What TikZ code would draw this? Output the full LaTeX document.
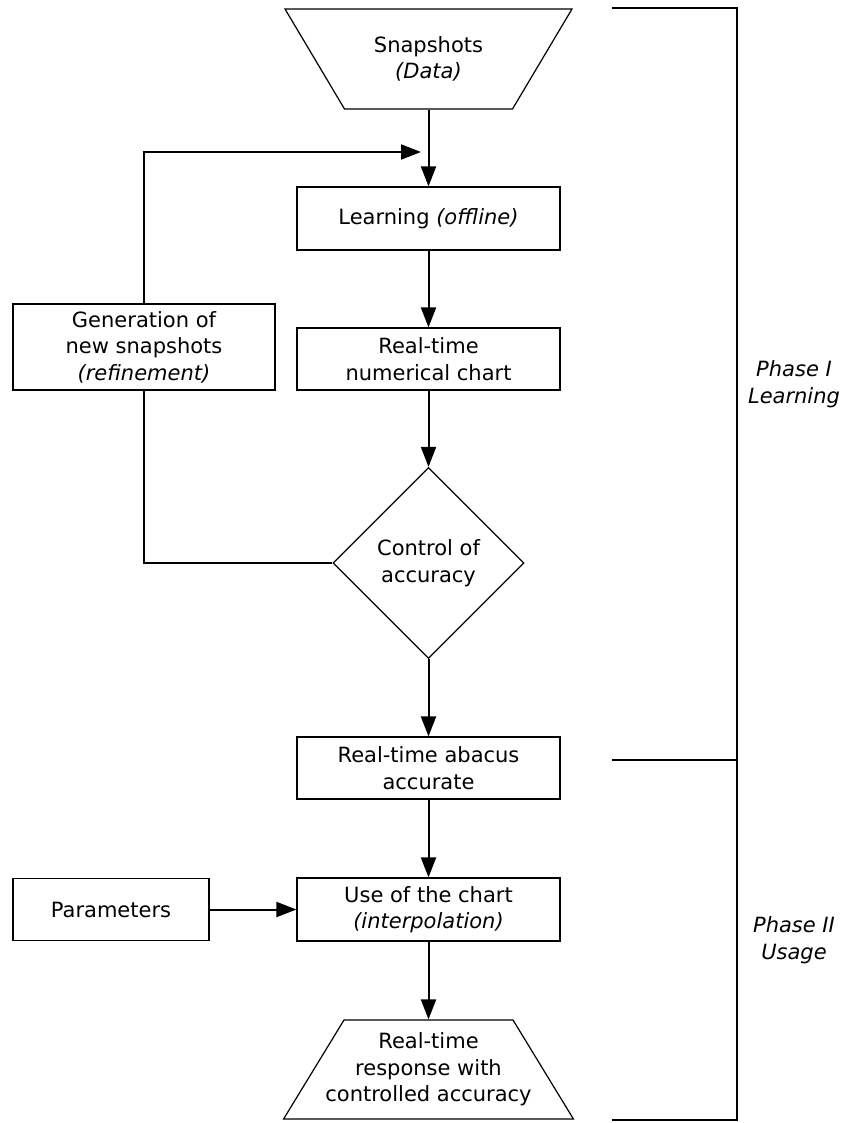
\documentclass[tikz,border=0pt]{standalone}
\usepackage{fontspec}
\setmainfont{DejaVu Sans}
\usepackage{tikz}
\usetikzlibrary{arrows.meta,shapes.geometric}
\newcommand{\fs}{\fontsize{21}{26.5}\selectfont}

\begin{document}
\begin{tikzpicture}[x=1pt,y=-1pt,
       every node/.style={font=\fs,align=center,inner sep=2pt},
       box/.style={draw,line width=1.2pt,minimum width=263pt,minimum height=63pt},
       trap/.style={draw,line width=1.2pt,trapezium,inner xsep=84pt,inner ysep=50pt},
       rhomb/.style={draw,line width=1.2pt,diamond,minimum width=191pt,minimum height=191pt,inner sep=0pt},
       arr/.style={line width=2pt,-{Triangle[length=20pt,width=15pt]}},
       line/.style={line width=2pt},
       phase/.style={font=\fs\itshape}]
       \useasboundingbox (0,0) rectangle (844,1123);
       \node[trap,shape border rotate=180,trapezium angle=59.25,
             label={center:Snapshots\\\textit{(Data)}}] (snap) at (428.5,59) {};
       \node[box] (learn) at (428.5,218.5) {Learning \textit{(offline)}};
       \node[box,minimum height=62pt] (chart) at (428.5,359) {Real-time\\numerical chart};
       \node[box,minimum width=262pt,minimum height=86pt] (gen) at (144,347) {Generation of\\new snapshots\\\textit{(refinement)}};
       \node[rhomb] (ctrl) at (428.5,563) {Control of\\accuracy};
       \node[box,minimum height=62pt] (abacus) at (428.5,768) {Real-time abacus\\accurate};
       \node[box] (use) at (428.5,909.5) {Use of the chart\\\textit{(interpolation)}};
       \node[box,minimum width=196pt,minimum height=62pt] (params) at (111,909.5) {Parameters};
       \node[trap,inner xsep=84.5pt,inner ysep=49.5pt,trapezium angle=58.6,
             label={center:Real-time\\response with\\controlled accuracy}] (resp) at (428.5,1069.5) {};
       \coordinate (fb) at (421,152);
       \draw[arr] (snap.south) -- (learn.north);
       \draw[arr] (learn.south) -- (chart.north);
       \draw[arr] (chart.south) -- (ctrl.north);
       \draw[arr] (ctrl.south) -- (abacus.north);
       \draw[arr] (abacus.south) -- (use.north);
       \draw[arr] (use.south) -- (resp.north);
       \draw[arr] (params.east) -- (use.west);
       \draw[line] (ctrl.west) -| (gen.south);
       \draw[arr] (gen.north) |- (fb);
       \draw[line] (612,8) -- (737,8) -- (737,1120) -- (612,1120);
       \draw[line] (612,760) -- (737,760);
       \node[phase] (learnphase) at (794,384) {Phase I\\Learning};
       \node[phase] (usephase) at (794,940) {Phase II\\Usage};
      \end{tikzpicture}
\end{document}
